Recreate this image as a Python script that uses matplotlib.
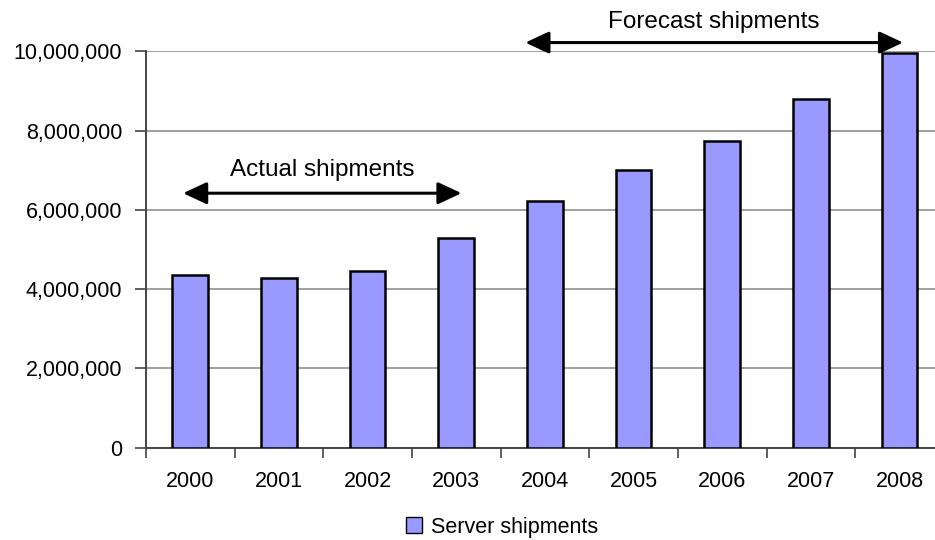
import numpy as np
import matplotlib
matplotlib.use("Agg")
import matplotlib.pyplot as plt
from matplotlib.patches import Patch
from matplotlib.ticker import FuncFormatter

plt.rcParams["font.family"] = ["Liberation Sans", "DejaVu Sans"]

# datos
anios = ["2000", "2001", "2002", "2003", "2004", "2005", "2006", "2007", "2008"]
envios = [4360000, 4270000, 4460000, 5300000, 6230000, 7000000, 7740000,
          8790000, 9950000]
etiqueta_serie = "Server shipments"
rango_real = (-0.08, 3.06)
rango_prevision = (3.78, 8.04)

fig = plt.figure(figsize=(9.35, 5.4), dpi=100)
ax = fig.add_axes([0.156, 0.171, 0.844, 0.734])

x = np.arange(len(anios))
ax.bar(x, envios, width=0.4, color="#9999ff", edgecolor="black",
       linewidth=1.8, zorder=3)

ax.set_xlim(-0.5, 8.40)
ax.set_ylim(0, 10000000)
ax.set_yticks(np.arange(0, 10000001, 2000000))
ax.yaxis.set_major_formatter(FuncFormatter(lambda v, p: f"{int(v):,}"))
ax.grid(axis="y", color="#a0a0a0", lw=1.4, zorder=0)

ax.set_xticks(x)
ax.set_xticklabels(anios)
ax.set_xticks(np.arange(-0.5, 8.5, 1), minor=True)
ax.tick_params(axis="x", which="major", length=0, pad=17, labelsize=15.5)
ax.tick_params(axis="x", which="minor", length=7, width=1.2, color="#444444")
ax.tick_params(axis="y", length=8, width=1.2, color="#444444",
               labelsize=15.5, pad=9)

for s in ["top", "right"]:
    ax.spines[s].set_visible(False)
for s in ["left", "bottom"]:
    ax.spines[s].set_color("#444444")
    ax.spines[s].set_linewidth(1.4)

# flechas de periodo
estilo = dict(arrowstyle="<|-|>,head_length=0.6,head_width=0.28",
              color="black", lw=2.2, mutation_scale=24, shrinkA=0, shrinkB=0)
ax.annotate("", xy=(rango_real[1], 6420000), xytext=(rango_real[0], 6420000),
            arrowprops=estilo, annotation_clip=False)
ax.text(sum(rango_real) / 2, 7000000, "Actual shipments", ha="center",
        va="center", fontsize=17.5)
ax.annotate("", xy=(rango_prevision[1], 10220000),
            xytext=(rango_prevision[0], 10220000),
            arrowprops=estilo, annotation_clip=False)
ax.text(sum(rango_prevision) / 2, 10740000, "Forecast shipments",
        ha="center", va="center", fontsize=17.5, clip_on=False)

fig.legend(handles=[Patch(facecolor="#9999ff", edgecolor="black",
                          label=etiqueta_serie)],
           loc="center", bbox_to_anchor=(0.537, 0.024),
           frameon=False, fontsize=15.5, handlelength=0.75, handleheight=0.75,
           handletextpad=0.4, borderpad=0)

fig.savefig("out.png", dpi=100)
